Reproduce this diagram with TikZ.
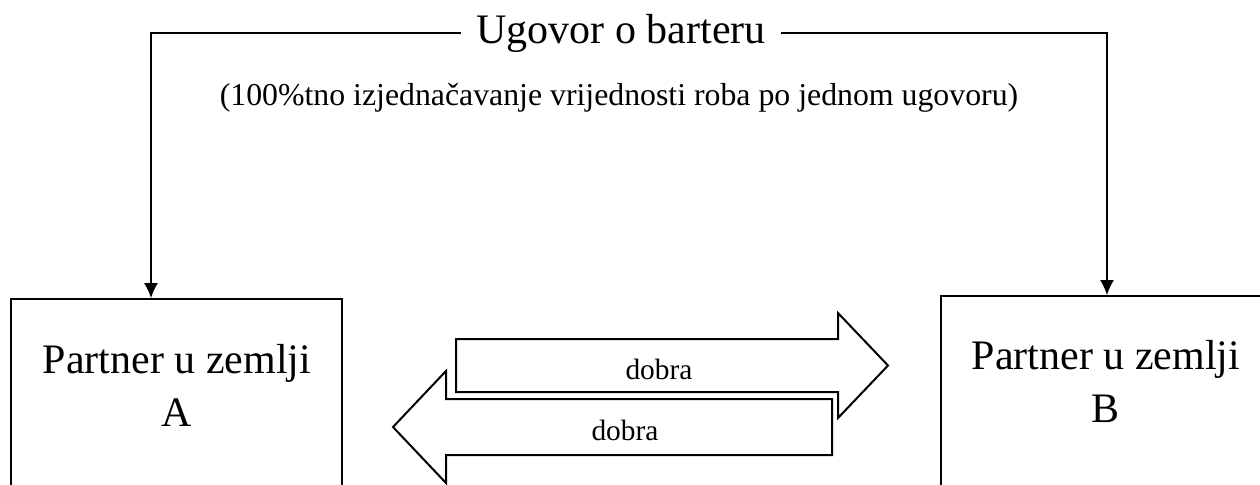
\documentclass[tikz,border=0pt]{standalone}
\usepackage{fontspec}
\setmainfont{Liberation Serif}
\usetikzlibrary{arrows.meta, positioning}
\tikzset{>={Latex[length=7.5pt,width=7pt]}}

\begin{document}
\begin{tikzpicture}[x=0.5pt, y=-0.5pt,
	partnerbox/.style={shape=rectangle, draw, line width=1pt},
	bigtext/.style={font=\fontsize{21}{26.5}\selectfont, align=center},
	smalltext/.style={font=\fontsize{14.7}{18}\selectfont},
	notetext/.style={font=\fontsize{15.9}{19}\selectfont},
	wire/.style={line width=0.6pt},
	blockarrow/.style={draw, fill=white, line width=1pt, line join=miter}]
	\useasboundingbox (0,0) rectangle (1260,484);
	\clip (0,0) rectangle (1260,484);
	% Paths, nodes and wires:
	\node[partnerbox, minimum width=165.5pt, minimum height=110.5pt] (boxA) at (176.5, 409.5){};
	\node[partnerbox, minimum width=174.5pt, minimum height=112pt] (boxB) at (1115.5, 408){};
	\node[bigtext] (partnerA) at (177, 385){Partner u zemlji\\A};
	\node[bigtext] (partnerB) at (1106, 381){Partner u zemlji\\B};
	\node[bigtext, inner xsep=7.5pt] (contract) at (621, 33){Ugovor o barteru};
	\node[notetext, anchor=base] (note) at (619, 105){(100\%tno izjednačavanje vrijednosti roba po jednom ugovoru)};
	\coordinate (cornerA) at (151, 33);
	\coordinate (cornerB) at (1107, 33);
	\draw[wire, ->] (contract.west) -- (cornerA) -- (cornerA |- boxA.north);
	\draw[wire, ->] (contract.east) -- (cornerB) -- (cornerB |- boxB.north);
	% goods arrows
	\draw[blockarrow] (456, 339) -- (838, 339) -- (838, 313) -- (888, 365.5) -- (838, 418) -- (838, 392) -- (456, 392) -- cycle;
	\draw[blockarrow] (832, 399) -- (446, 399) -- (446, 371) -- (393, 427) -- (446, 483) -- (446, 455) -- (832, 455) -- cycle;
	\node[smalltext, anchor=base] (goodsAB) at (659, 379){dobra};
	\node[smalltext, anchor=base] (goodsBA) at (625, 440){dobra};
\end{tikzpicture}
\end{document}
